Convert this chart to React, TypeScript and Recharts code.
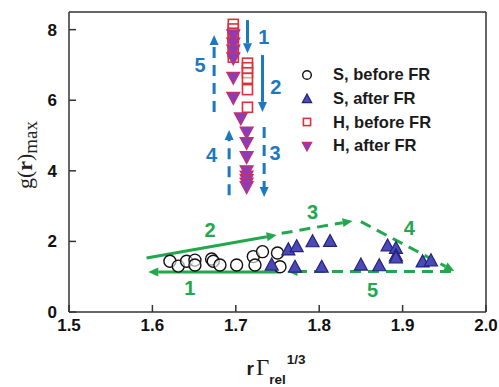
import React from "react";
import {
  ComposedChart,
  Scatter,
  XAxis,
  YAxis,
  ReferenceLine,
  Legend,
} from "recharts";

// g(r)max against r·Γrel^(1/3) for the S and H runs, before and after FR
const sBefore = [
  [1.621, 1.44], [1.631, 1.3], [1.641, 1.44], [1.651, 1.47], [1.651, 1.33],
  [1.671, 1.5], [1.673, 1.44], [1.681, 1.33], [1.701, 1.33], [1.721, 1.57],
  [1.723, 1.33], [1.732, 1.71], [1.75, 1.67], [1.753, 1.28],
];
const sAfter = [
  [1.743, 1.33], [1.763, 1.76], [1.773, 1.85], [1.771, 1.27], [1.792, 1.99],
  [1.803, 1.27], [1.813, 2.0], [1.85, 1.33], [1.872, 1.31], [1.882, 1.87],
  [1.892, 1.8], [1.892, 1.59], [1.892, 1.53], [1.924, 1.42], [1.934, 1.45],
];
const hBefore = [
  [1.697, 8.15], [1.697, 8.02], [1.697, 7.9], [1.697, 7.78], [1.697, 7.65],
  [1.697, 7.52], [1.697, 7.38], [1.697, 7.22],
  [1.714, 7.05], [1.714, 6.92], [1.714, 6.78], [1.714, 6.62], [1.714, 6.3], [1.714, 5.8],
];
const hAfter = [
  [1.697, 7.85], [1.697, 7.62], [1.697, 7.42], [1.697, 7.2], [1.697, 6.65],
  [1.697, 6.08], [1.706, 5.5],
  [1.713, 5.1], [1.713, 4.8], [1.713, 4.4], [1.713, 4.0], [1.713, 3.85],
  [1.713, 3.75], [1.713, 3.65], [1.713, 3.55],
];

const xTicks = [1.5, 1.6, 1.7, 1.8, 1.9, 2.0];
const yTicks = [0, 2, 4, 6, 8];

// numbered arrows: [x1, y1, x2, y2, dashed]
const blueArrows = [
  [1.714, 8.27, 1.714, 7.33, 0],
  [1.732, 7.28, 1.732, 5.67, 0],
  [1.734, 5.24, 1.734, 3.26, 1],
  [1.692, 3.31, 1.692, 5.16, 1],
  [1.674, 5.67, 1.674, 7.85, 1],
];
const greenArrows = [
  [1.751, 1.13, 1.595, 1.13, 0],
  [1.593, 1.53, 1.749, 2.18, 0],
  [1.755, 2.23, 1.84, 2.58, 1],
  [1.85, 2.56, 1.962, 1.16, 1],
  [1.958, 1.15, 1.762, 1.15, 1],
];
const blueLabels = [
  ["1", 1.7335, 7.79], ["2", 1.748, 6.37], ["3", 1.747, 4.5],
  ["4", 1.671, 4.45], ["5", 1.657, 7.0],
];
const greenLabels = [
  ["1", 1.645, 0.68], ["2", 1.669, 2.32], ["3", 1.792, 2.83],
  ["4", 1.908, 2.38], ["5", 1.864, 0.62],
];

const BLUE = "#1c78c0";
const GREEN = "#22a84c";
const FONT = "Arial, 'Liberation Sans', sans-serif";

const toPts = (arr: number[][]) => arr.map(([x, y]) => ({ x, y }));
const toLabels = (arr: (string | number)[][]) =>
  arr.map(([t, x, y]) => ({ t, x, y }));

function Marker({ kind, cx, cy, s = 1 }: { kind: string; cx: number; cy: number; s?: number }) {
  if (kind === "circle")
    return <circle cx={cx} cy={cy} r={6 * s} fill="#fff" fillOpacity={0.6} stroke="#111" strokeWidth={1.4} />;
  if (kind === "tri")
    return (
      <polygon
        points={`${cx},${cy - 7 * s} ${cx - 6.5 * s},${cy + 5 * s} ${cx + 6.5 * s},${cy + 5 * s}`}
        fill="#4b48b8"
        stroke="#23237a"
        strokeWidth={1.2}
      />
    );
  if (kind === "square")
    return (
      <rect
        x={cx - 5 * s}
        y={cy - 5 * s}
        width={10 * s}
        height={10 * s}
        fill="#fff"
        fillOpacity={0.5}
        stroke="#d8323a"
        strokeWidth={1.6}
      />
    );
  return (
    <polygon
      points={`${cx - 6.5 * s},${cy - 5 * s} ${cx + 6.5 * s},${cy - 5 * s} ${cx},${cy + 7 * s}`}
      fill="#8a3cba"
      stroke="#c83068"
      strokeWidth={1.2}
    />
  );
}

const series = [
  { name: "S, before FR", kind: "circle", data: toPts(sBefore) },
  { name: "S, after FR", kind: "tri", data: toPts(sAfter) },
  { name: "H, before FR", kind: "square", data: toPts(hBefore) },
  { name: "H, after FR", kind: "invtri", data: toPts(hAfter) },
];

function Arrow(props: any) {
  const { x1, y1, x2, y2, color, dashed } = props;
  const dx = x2 - x1;
  const dy = y2 - y1;
  const len = Math.sqrt(dx * dx + dy * dy);
  const ux = dx / len;
  const uy = dy / len;
  const head = 10;
  const half = 4.5;
  const bx = x2 - ux * head;
  const by = y2 - uy * head;
  return (
    <g>
      <line
        x1={x1}
        y1={y1}
        x2={bx}
        y2={by}
        stroke={color}
        strokeWidth={3}
        strokeDasharray={dashed ? "11 7" : undefined}
      />
      <polygon
        points={`${x2},${y2} ${bx - uy * half},${by + ux * half} ${bx + uy * half},${by - ux * half}`}
        fill={color}
      />
    </g>
  );
}

function LegendBox() {
  return (
    <div style={{ fontFamily: FONT, fontWeight: "bold", fontSize: 16.5, color: "#1a1a1a" }}>
      {series.map((s) => (
        <div key={s.name} style={{ display: "flex", alignItems: "center", height: 23.7 }}>
          <svg width={24} height={20}>
            <Marker kind={s.kind} cx={11} cy={10} s={0.72} />
          </svg>
          <span style={{ marginLeft: 13 }}>{s.name}</span>
        </div>
      ))}
    </div>
  );
}

function YTitle({ viewBox }: any) {
  const x = viewBox.x + 32;
  const y = viewBox.y + viewBox.height / 2 - 7;
  return (
    <text
      x={x}
      y={y}
      transform={`rotate(-90, ${x}, ${y})`}
      textAnchor="middle"
      fontFamily="'Liberation Serif', 'DejaVu Serif', serif"
      fontSize={22}
      fill="#222"
    >
      g(<tspan fontWeight="bold">r</tspan>)
      <tspan fontSize={19} dy={5}>max</tspan>
    </text>
  );
}

function XTitle({ viewBox }: any) {
  const x = viewBox.x + viewBox.width / 2 - 31;
  const y = 375;
  return (
    <text x={x} y={y} fontFamily={FONT} fill="#1a1a1a">
      <tspan fontWeight="bold" fontSize={19}>r</tspan>
      <tspan fontFamily="'Liberation Serif', serif" fontSize={23} dx={2}>Γ</tspan>
      <tspan fontWeight="bold" fontSize={13.5} dy={9}>rel</tspan>
      <tspan fontWeight="bold" fontSize={13.5} dy={-20} dx={1}>1/3</tspan>
    </text>
  );
}

const tickStyle = { fill: "#111", fontSize: 17, fontWeight: "bold", fontFamily: FONT };

export default function App() {
  return (
    <div style={{ position: "absolute", left: 0, top: 0, width: 499, height: 387, background: "#fff" }}>
      <ComposedChart width={499} height={387} margin={{ top: 12, right: 13, bottom: 30, left: 0 }}>
        <XAxis
          xAxisId="x"
          type="number"
          dataKey="x"
          domain={[1.5, 2.0]}
          ticks={xTicks}
          tickFormatter={(v: number) => v.toFixed(1)}
          allowDataOverflow
          height={45}
          stroke="#333"
          strokeWidth={1.5}
          tickSize={-7}
          tickMargin={14}
          tick={tickStyle}
          label={{ content: XTitle }}
        />
        <XAxis
          xAxisId="top"
          type="number"
          orientation="top"
          mirror
          domain={[1.5, 2.0]}
          ticks={xTicks}
          allowDataOverflow
          stroke="#333"
          strokeWidth={1.5}
          tickSize={7}
          tick={false}
        />
        <YAxis
          yAxisId="y"
          type="number"
          dataKey="y"
          domain={[0, 8.5]}
          ticks={yTicks}
          allowDataOverflow
          width={69}
          stroke="#333"
          strokeWidth={1.5}
          tickSize={-7}
          tickMargin={19}
          tick={tickStyle}
          label={{ content: YTitle }}
        />
        <YAxis
          yAxisId="right"
          type="number"
          orientation="right"
          mirror
          domain={[0, 8.5]}
          ticks={yTicks}
          allowDataOverflow
          stroke="#333"
          strokeWidth={1.5}
          tickSize={7}
          tick={false}
        />

        {blueArrows.map((a, i) => (
          <ReferenceLine
            key={`b${i}`}
            xAxisId="x"
            yAxisId="y"
            ifOverflow="visible"
            segment={[{ x: a[0], y: a[1] }, { x: a[2], y: a[3] }]}
            shape={(p: any) => <Arrow {...p} color={BLUE} dashed={a[4] === 1} />}
          />
        ))}
        {greenArrows.map((a, i) => (
          <ReferenceLine
            key={`g${i}`}
            xAxisId="x"
            yAxisId="y"
            ifOverflow="visible"
            segment={[{ x: a[0], y: a[1] }, { x: a[2], y: a[3] }]}
            shape={(p: any) => <Arrow {...p} color={GREEN} dashed={a[4] === 1} />}
          />
        ))}

        {series.map((s) => (
          <Scatter
            key={s.name}
            name={s.name}
            xAxisId="x"
            yAxisId="y"
            data={s.data}
            isAnimationActive={false}
            shape={(p: any) => <Marker kind={s.kind} cx={p.cx} cy={p.cy} />}
          />
        ))}

        {[
          { data: toLabels(blueLabels), color: BLUE },
          { data: toLabels(greenLabels), color: GREEN },
        ].map((g, i) => (
          <Scatter
            key={`lab${i}`}
            xAxisId="x"
            yAxisId="y"
            data={g.data}
            legendType="none"
            isAnimationActive={false}
            shape={(p: any) => (
              <text
                x={p.cx}
                y={p.cy}
                textAnchor="middle"
                dominantBaseline="central"
                fill={g.color}
                fontFamily={FONT}
                fontWeight="bold"
                fontSize={20}
              >
                {p.payload.t}
              </text>
            )}
          />
        ))}

        <Legend
          layout="vertical"
          align="center"
          verticalAlign="middle"
          content={() => <LegendBox />}
          wrapperStyle={{ left: 296, top: 63, width: 190 }}
        />
      </ComposedChart>
    </div>
  );
}
